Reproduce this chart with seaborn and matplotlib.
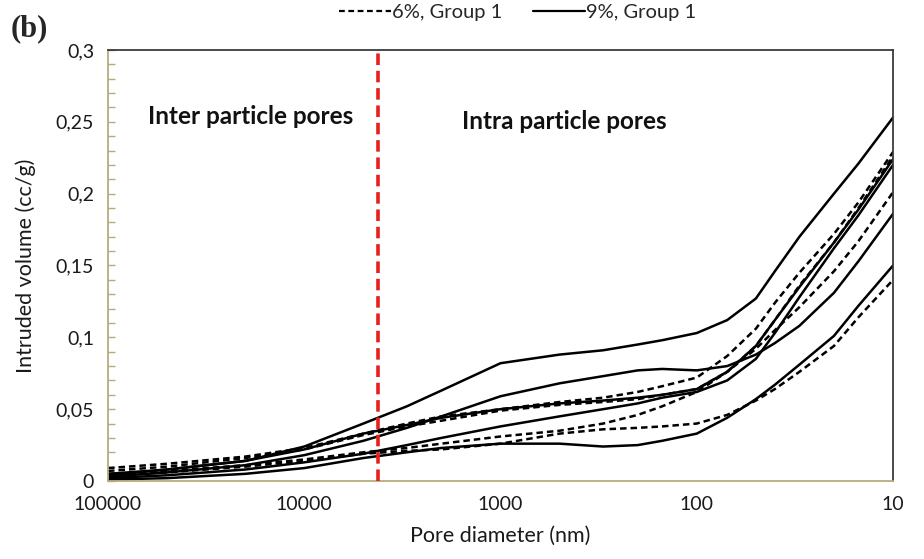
import numpy as np
import pandas as pd
import matplotlib
matplotlib.use("Agg")
import matplotlib.pyplot as plt
from matplotlib.lines import Line2D
from matplotlib.ticker import MultipleLocator, FixedLocator, NullLocator
import seaborn as sns

# ---- data ----
diameter = [100000, 50000, 20000, 10000, 5000, 3000, 2000, 1000, 500, 300, 200, 150,
            100, 70, 50, 40, 30, 20, 15, 10]

# 9%, Group 1 (solid)
s9_a = [0.005, 0.008, 0.014, 0.024, 0.040, 0.052, 0.063, 0.082, 0.088, 0.091, 0.095, 0.098,
        0.103, 0.112, 0.127, 0.146, 0.170, 0.200, 0.221, 0.253]
s9_b = [0.003, 0.006, 0.011, 0.018, 0.028, 0.037, 0.045, 0.059, 0.068, 0.073, 0.077, 0.078,
        0.077, 0.080, 0.088, 0.096, 0.108, 0.131, 0.153, 0.186]
s9_c = [0.004, 0.008, 0.014, 0.022, 0.033, 0.039, 0.044, 0.050, 0.054, 0.056, 0.058, 0.060,
        0.064, 0.076, 0.094, 0.112, 0.135, 0.166, 0.189, 0.224]
s9_d = [0.002, 0.004, 0.008, 0.013, 0.019, 0.025, 0.030, 0.038, 0.045, 0.050, 0.054, 0.058,
        0.062, 0.070, 0.085, 0.103, 0.128, 0.162, 0.185, 0.220]
s9_e = [0.001, 0.002, 0.005, 0.009, 0.016, 0.020, 0.023, 0.026, 0.026, 0.024, 0.025, 0.028,
        0.033, 0.044, 0.057, 0.067, 0.081, 0.101, 0.122, 0.150]

# 6%, Group 1 (dashed)
s6_a = [0.009, 0.012, 0.017, 0.023, 0.033, 0.040, 0.045, 0.050, 0.055, 0.058, 0.062, 0.066,
        0.072, 0.087, 0.106, 0.124, 0.145, 0.172, 0.194, 0.229]
s6_b = [0.007, 0.010, 0.016, 0.022, 0.032, 0.038, 0.042, 0.049, 0.053, 0.055, 0.057, 0.060,
        0.064, 0.076, 0.094, 0.112, 0.136, 0.166, 0.190, 0.226]
s6_c = [0.005, 0.007, 0.011, 0.015, 0.020, 0.023, 0.026, 0.031, 0.035, 0.040, 0.046, 0.052,
        0.062, 0.076, 0.092, 0.105, 0.121, 0.146, 0.167, 0.201]
s6_d = [0.004, 0.006, 0.010, 0.014, 0.019, 0.021, 0.022, 0.026, 0.033, 0.036, 0.037, 0.038,
        0.040, 0.046, 0.056, 0.064, 0.076, 0.094, 0.114, 0.140]

series_9 = [s9_a, s9_b, s9_c, s9_d, s9_e]
series_6 = [s6_a, s6_b, s6_c, s6_d]

x_ticks = [100000, 10000, 1000, 100, 10]
x_tick_labels = ["100000", "10000", "1000", "100", "10"]
y_ticks = [0, 0.05, 0.1, 0.15, 0.2, 0.25, 0.3]
y_tick_labels = ["0", "0,05", "0,1", "0,15", "0,2", "0,25", "0,3"]
boundary = 4200  # inter / intra particle boundary (nm)

legend_labels = ["6%, Group 1", "9%, Group 1"]

# ---- build long table ----
rows = []
for i, s in enumerate(series_6):
    for d, v in zip(diameter, s):
        rows.append({"diameter": d, "volume": v, "sample": f"6-{i}", "group": legend_labels[0]})
for i, s in enumerate(series_9):
    for d, v in zip(diameter, s):
        rows.append({"diameter": d, "volume": v, "sample": f"9-{i}", "group": legend_labels[1]})
df = pd.DataFrame(rows)

sns.set_theme(style="white")
plt.rcParams["font.family"] = ["Lato", "DejaVu Sans"]

fig = plt.figure(figsize=(9.24, 5.59), dpi=100)
ax = fig.add_axes([0.1169, 0.1395, 0.8496, 0.7711])

dash_6 = (2.6, 1.6)
for name, sub in df.groupby("sample", sort=False):
    is6 = sub["group"].iloc[0] == legend_labels[0]
    sns.lineplot(data=sub, x="diameter", y="volume", ax=ax, color="black",
                 linewidth=1.8, estimator=None, sort=False, legend=False,
                 dashes=False)
    line = ax.lines[-1]
    line.set_solid_joinstyle("round")
    if is6:
        line.set_dashes(dash_6)

ax.axvline(boundary, color="#e8201c", linewidth=2.6, linestyle=(0, (3.2, 1.6)), zorder=5)

ax.set_xscale("log")
ax.set_xlim(100000, 10)
ax.set_ylim(0, 0.3)
ax.xaxis.set_major_locator(FixedLocator(x_ticks))
ax.xaxis.set_minor_locator(NullLocator())
ax.set_xticklabels(x_tick_labels)
ax.set_yticks(y_ticks)
ax.set_yticklabels(y_tick_labels)
ax.yaxis.set_minor_locator(MultipleLocator(0.01))

tan = "#b8aa7c"
ax.spines["left"].set_color(tan)
ax.spines["bottom"].set_color(tan)
ax.spines["left"].set_linewidth(1.3)
ax.spines["bottom"].set_linewidth(1.3)
ax.spines["top"].set_color("#333333")
ax.spines["right"].set_color("#333333")
ax.tick_params(axis="y", which="both", direction="in", left=True, length=5,
               width=1, color=tan, labelsize=14, pad=10, labelcolor="#1a1a1a")
ax.tick_params(axis="x", which="both", length=0, labelsize=14, pad=11, labelcolor="#1a1a1a")

ax.set_xlabel("Pore diameter (nm)", fontsize=15.5, color="#1a1a1a", labelpad=9)
ax.set_ylabel("Intruded volume (cc/g)", fontsize=15.5, color="#1a1a1a", labelpad=14)

ax.text(62500, 0.254, "Inter particle pores", fontsize=17.5, fontweight="bold",
        color="#111111", va="center")
ax.text(1570, 0.250, "Intra particle pores", fontsize=17.5, fontweight="bold",
        color="#111111", va="center")

fig.text(0.012, 0.935, "(b)", fontsize=22, fontweight="bold", family="Liberation Serif")

handles = [Line2D([], [], color="black", linewidth=1.6, dashes=dash_6),
           Line2D([], [], color="black", linewidth=1.6)]
fig.legend(handles, legend_labels, loc="center", bbox_to_anchor=(0.56, 0.978),
           ncol=2, frameon=False, fontsize=14.5, handlelength=2.6, handletextpad=0.05,
           columnspacing=1.5)

fig.savefig("out.png", dpi=100, facecolor="white")
